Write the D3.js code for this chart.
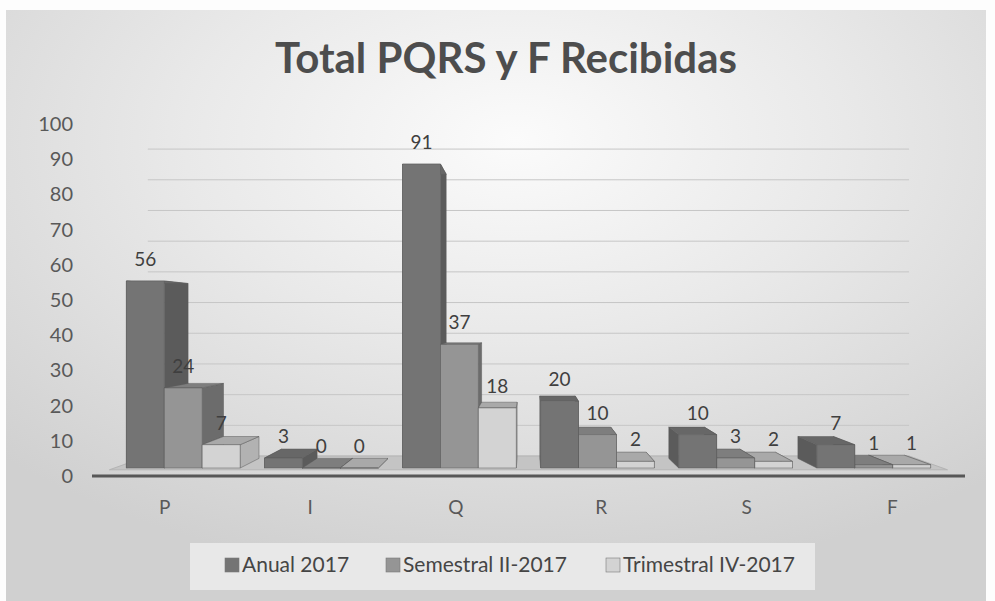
<!DOCTYPE html>
<html>
<head>
<meta charset="utf-8">
<script src="https://cdnjs.cloudflare.com/ajax/libs/d3/7.8.5/d3.min.js"></script>
<style>
body{margin:0;background:#fff;}
svg text{font-family:Lato,"Open Sans",sans-serif;}
</style>
</head>
<body>
<svg id="chart" width="995" height="601"></svg>
<script>
// data
var categories = ["P","I","Q","R","S","F"];
var seriesNames = ["Anual 2017","Semestral II-2017","Trimestral IV-2017"];
var anual = [56,3,91,20,10,7];
var semestral = [24,0,37,10,3,1];
var trimestral = [7,0,18,2,2,1];
var yTicks = [0,10,20,30,40,50,60,70,80,90,100];

var seriesValues = [anual, semestral, trimestral];

//colors per series: front, side, top
var faceColors = [
    {front:"#747474", side:"#5b5b5b", top:"#676767"},
    {front:"#959595", side:"#6c6c6c", top:"#7e7e7e"},
    {front:"#d3d3d3", side:"#b2b2b2", top:"#a9a9a9"}
];

var svg = d3.select("#chart");

// background, scanned paper look
var defs = svg.append("defs");
var grad = defs.append("radialGradient").attr("id","paper")
    .attr("cx","52%").attr("cy","22%").attr("r","75%");
grad.append("stop").attr("offset","0%").attr("stop-color","#fbfbfb");
grad.append("stop").attr("offset","45%").attr("stop-color","#e9e9e9");
grad.append("stop").attr("offset","100%").attr("stop-color","#d0d0d0");

svg.append("rect").attr("width",995).attr("height",601).attr("fill","#fdfdfd");
svg.append("rect").attr("x",6).attr("y",10).attr("width",980).attr("height",591)
    .attr("fill","url(#paper)");

//scales
var x = d3.scaleBand().domain(categories).range([92,965]);
var xs = d3.scaleBand().domain(seriesNames).range([0,x.bandwidth()]).paddingOuter(0.32);
var y = d3.scaleLinear().domain([0,100]).range([476,124]);

// simple perspective: s=1 is the axis plane, smaller s is further back
var vx = 528, vy = 320;
var sWall = 0.872, sFloor = 0.96, sFront = 0.949, sBack = 0.887;
function proj(X, Y, s){
    return [vx + (X - vx) * s, vy + (Y - vy) * s];
}
function poly(pts){
    return pts.map(p => p[0].toFixed(1) + "," + p[1].toFixed(1)).join(" ");
}

// back wall gridlines
svg.append("g").selectAll("line")
    .data(yTicks)
    .enter()
    .append("line")
    .attr("x1", d => proj(x.range()[0], y(d), sWall)[0])
    .attr("x2", d => proj(x.range()[1], y(d), sWall)[0])
    .attr("y1", d => proj(0, y(d), sWall)[1])
    .attr("y2", d => proj(0, y(d), sWall)[1])
    .attr("stroke","#c6c6c6")
    .attr("stroke-width",1);

// floor
var x0 = x.range()[0], x1 = x.range()[1];
svg.append("polygon")
    .attr("points", poly([proj(x0,y(0),sWall), proj(x1,y(0),sWall), proj(x1,y(0),sFloor), proj(x0,y(0),sFloor)]))
    .attr("fill","#c4c4c4")
    .attr("stroke","#b4b4b4")
    .attr("stroke-width",1);

// axis line in front
svg.append("line")
    .attr("x1",x0).attr("x2",x1)
    .attr("y1",y(0)).attr("y2",y(0))
    .attr("stroke","#575757")
    .attr("stroke-width",3);

// y tick labels
svg.append("g").selectAll("text")
    .data(yTicks)
    .enter()
    .append("text")
    .attr("x",73)
    .attr("y", d => y(d))
    .attr("dy","0.35em")
    .attr("text-anchor","end")
    .attr("font-size",20)
    .attr("fill","#595959")
    .text(d => d);

// category labels
svg.append("g").selectAll("text")
    .data(categories)
    .enter()
    .append("text")
    .attr("x", d => x(d) + x.bandwidth()/2)
    .attr("y",507)
    .attr("dy","0.35em")
    .attr("text-anchor","middle")
    .attr("font-size",19)
    .attr("fill","#595959")
    .text(d => d);

// build bars
var bars = [];
categories.forEach((c, i) => {
    seriesValues.forEach((vals, j) => {
        var X0 = x(c) + xs(seriesNames[j]);
        var X1 = X0 + xs.bandwidth();
        bars.push({cat:c, series:j, value:vals[i], X0:X0, X1:X1, cx:(X0+X1)/2});
    });
});
// paint far bars first (furthest from the vanishing point)
bars.sort((a,b) => Math.abs(b.cx - vx) - Math.abs(a.cx - vx));

var g = svg.append("g");
bars.forEach(b => {
    var Y0 = y(0), Y1 = y(b.value);
    var col = faceColors[b.series];
    var bg = g.append("g");
    // left and right sides
    [b.X0, b.X1].forEach(X => {
        bg.append("polygon")
            .attr("points", poly([proj(X,Y1,sFront), proj(X,Y1,sBack), proj(X,Y0,sBack), proj(X,Y0,sFront)]))
            .attr("fill", col.side)
            .attr("stroke","#5a5a5a").attr("stroke-width",0.5);
    });
    // top
    bg.append("polygon")
        .attr("points", poly([proj(b.X0,Y1,sFront), proj(b.X1,Y1,sFront), proj(b.X1,Y1,sBack), proj(b.X0,Y1,sBack)]))
        .attr("fill", col.top)
        .attr("stroke","#5a5a5a").attr("stroke-width",0.5);
    // front
    bg.append("polygon")
        .attr("points", poly([proj(b.X0,Y1,sFront), proj(b.X1,Y1,sFront), proj(b.X1,Y0,sFront), proj(b.X0,Y0,sFront)]))
        .attr("fill", col.front)
        .attr("stroke","#5a5a5a").attr("stroke-width",0.5);
});

// data labels
svg.append("g").selectAll("text")
    .data(bars)
    .enter()
    .append("text")
    .attr("x", d => proj(d.cx, y(d.value), sFront)[0])
    .attr("y", d => proj(d.cx, y(d.value), sFront)[1] - 15)
    .attr("text-anchor","middle")
    .attr("font-size",19)
    .attr("fill","#3f3f3f")
    .text(d => d.value);

// title
svg.append("text")
    .attr("x",506)
    .attr("y",73)
    .attr("text-anchor","middle")
    .attr("font-size",42)
    .attr("font-weight","bold")
    .attr("fill","#4d4d4d")
    .text("Total PQRS y F Recibidas");

// legend
var legend = svg.append("g");
legend.append("rect")
    .attr("x",190).attr("y",543).attr("width",625).attr("height",47)
    .attr("fill","#e8e8e8");
var legendX = [225, 386, 606];
seriesNames.forEach((name, j) => {
    legend.append("rect")
        .attr("x",legendX[j]).attr("y",558).attr("width",14).attr("height",14)
        .attr("fill", faceColors[j].front)
        .attr("stroke","#7a7a7a").attr("stroke-width",0.6);
    legend.append("text")
        .attr("x",legendX[j] + 17).attr("y",572)
        .attr("font-size",21)
        .attr("fill","#454545")
        .text(name);
});
</script>
</body>
</html>
